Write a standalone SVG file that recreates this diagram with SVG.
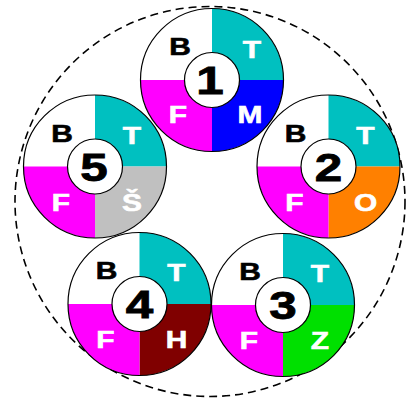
<svg xmlns="http://www.w3.org/2000/svg" width="413" height="401" viewBox="0 0 413 401">
<style>
.bg{fill:#fff}
.w{fill:#fff}
.c{fill:#00C0C0}
.m{fill:#FF00FF}
.ring{fill:none;stroke:#000;stroke-width:1.2}
.hub{fill:#fff;stroke:#000;stroke-width:1.2}
.lb{font-family:"Liberation Sans",Arial,sans-serif;font-weight:bold;font-size:23px;text-anchor:middle;fill:#fff;stroke:#fff;stroke-width:0.6}
.lb.k{fill:#000;stroke:#000}
.num{font-family:"Liberation Sans",Arial,sans-serif;font-weight:bold;font-size:38px;text-anchor:middle;fill:#000;stroke:#000;stroke-width:0.8}
.dash{fill:none;stroke:#000;stroke-width:1.6;stroke-dasharray:8 5}
</style>
<defs>
<path id="qtl" d="M0 0 L-71.5 0 A71.5 71.5 0 0 1 0 -71.5 Z"/>
<path id="qtr" d="M0 0 L0 -71.5 A71.5 71.5 0 0 1 71.5 0 Z"/>
<path id="qbr" d="M0 0 L71.5 0 A71.5 71.5 0 0 1 0 71.5 Z"/>
<path id="qbl" d="M0 0 L0 71.5 A71.5 71.5 0 0 1 -71.5 0 Z"/>
</defs>
<rect class="bg" x="0" y="0" width="413" height="401"/>
<g id="connectors">
<circle class="dash" cx="210" cy="201.5" r="195"/>
</g>
<g id="node1" transform="translate(212,80)">
<use href="#qtl" class="w"/><use href="#qtr" class="c"/><use href="#qbr" fill="#0000FF"/><use href="#qbl" class="m"/>
<circle class="ring" r="71.5"/><circle class="hub" r="27.5"/>
<text class="lb k" transform="translate(-32,-25) scale(1.3,1)">B</text>
<text class="lb" transform="translate(40,-22) scale(1.3,1)">T</text>
<text class="lb" transform="translate(-34,43) scale(1.3,1)">F</text>
<text class="lb" transform="translate(38,43) scale(1.3,1)">M</text>
<text class="num" transform="translate(-2,14) scale(1.3,1)">1</text>
</g>
<g id="node2" transform="translate(328.5,166.5)">
<use href="#qtl" class="w"/><use href="#qtr" class="c"/><use href="#qbr" fill="#FF8000"/><use href="#qbl" class="m"/>
<circle class="ring" r="71.5"/><circle class="hub" r="27.5"/>
<text class="lb k" transform="translate(-33,-25) scale(1.3,1)">B</text>
<text class="lb" transform="translate(37,-23) scale(1.3,1)">T</text>
<text class="lb" transform="translate(-34,44) scale(1.3,1)">F</text>
<text class="lb" transform="translate(37,44) scale(1.3,1)">O</text>
<text class="num" transform="translate(0,14) scale(1.3,1)">2</text>
</g>
<g id="node3" transform="translate(283,305)">
<use href="#qtl" class="w"/><use href="#qtr" class="c"/><use href="#qbr" fill="#00E000"/><use href="#qbl" class="m"/>
<circle class="ring" r="71.5"/><circle class="hub" r="27.5"/>
<text class="lb k" transform="translate(-33,-25) scale(1.3,1)">B</text>
<text class="lb" transform="translate(37,-23) scale(1.3,1)">T</text>
<text class="lb" transform="translate(-34,44) scale(1.3,1)">F</text>
<text class="lb" transform="translate(37,44) scale(1.3,1)">Z</text>
<text class="num" transform="translate(0,14) scale(1.3,1)">3</text>
</g>
<g id="node4" transform="translate(139.5,304)">
<use href="#qtl" class="w"/><use href="#qtr" class="c"/><use href="#qbr" fill="#800000"/><use href="#qbl" class="m"/>
<circle class="ring" r="71.5"/><circle class="hub" r="27.5"/>
<text class="lb k" transform="translate(-33,-25) scale(1.3,1)">B</text>
<text class="lb" transform="translate(37,-23) scale(1.3,1)">T</text>
<text class="lb" transform="translate(-34,44) scale(1.3,1)">F</text>
<text class="lb" transform="translate(37,44) scale(1.3,1)">H</text>
<text class="num" transform="translate(0,14) scale(1.3,1)">4</text>
</g>
<g id="node5" transform="translate(95,166.5)">
<use href="#qtl" class="w"/><use href="#qtr" class="c"/><use href="#qbr" fill="#C0C0C0"/><use href="#qbl" class="m"/>
<circle class="ring" r="71.5"/><circle class="hub" r="27.5"/>
<text class="lb k" transform="translate(-33,-25) scale(1.3,1)">B</text>
<text class="lb" transform="translate(37,-23) scale(1.3,1)">T</text>
<text class="lb" transform="translate(-34,44) scale(1.3,1)">F</text>
<text class="lb" transform="translate(37,44) scale(1.3,1)">Š</text>
<text class="num" transform="translate(-1,14) scale(1.3,1)">5</text>
</g>
</svg>
